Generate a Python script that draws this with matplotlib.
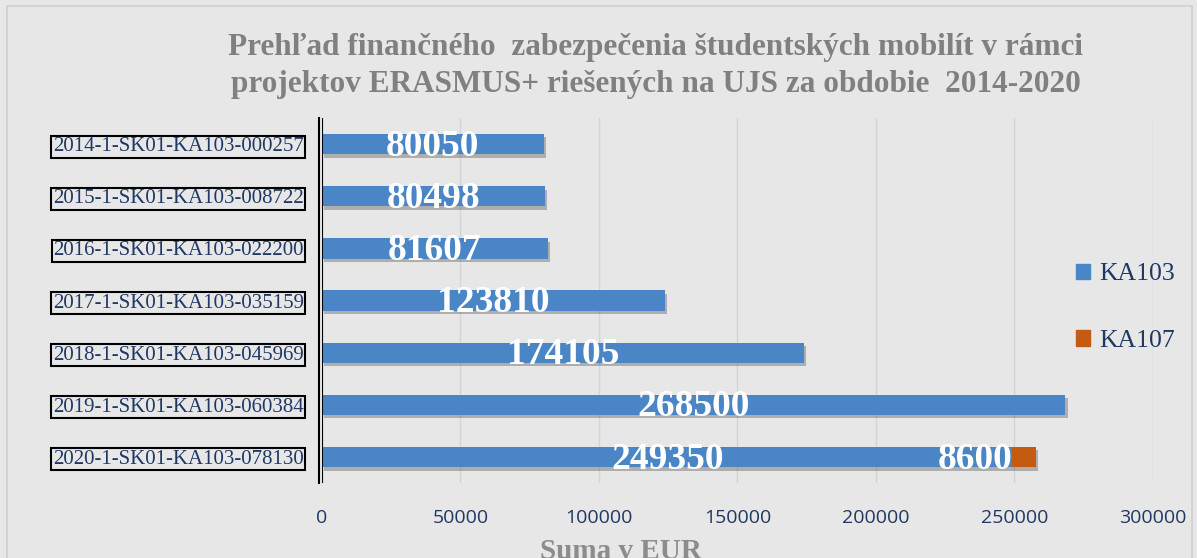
import numpy as np
import matplotlib.pyplot as plt
import matplotlib.patheffects as pe
from matplotlib.patches import Rectangle, Patch

projects = ["2014-1-SK01-KA103-000257", "2015-1-SK01-KA103-008722",
            "2016-1-SK01-KA103-022200", "2017-1-SK01-KA103-035159",
            "2018-1-SK01-KA103-045969", "2019-1-SK01-KA103-060384",
            "2020-1-SK01-KA103-078130"]
ka103 = [80050, 80498, 81607, 123810, 174105, 268500, 249350]
ka107 = [0, 0, 0, 0, 0, 0, 8600]

bg = "#E7E7E7"
navy = "#1F3864"
blue = "#4A86C6"
orange = "#C55A11"
serif = "Liberation Serif"

fig = plt.figure(figsize=(11.97, 5.58), dpi=100, facecolor=bg)
ax = fig.add_axes([0.269, 0.1344, 0.694, 0.654], facecolor=bg)

# spines first (set_position resets the ticks)
for s in ["top", "right", "bottom"]:
    ax.spines[s].set_visible(False)
ax.spines["left"].set_color("black")
ax.spines["left"].set_linewidth(1.5)
ax.spines["left"].set_position(("outward", 2.2))
ax.axvline(0, color="black", linewidth=1.5, zorder=4)

y = np.arange(len(projects))
shadow = [pe.SimplePatchShadow(offset=(1.5, -2.5), shadow_rgbFace="#444444", alpha=0.35), pe.Normal()]
b1 = ax.barh(y, ka103, height=0.39, color=blue, zorder=3)
b2 = ax.barh(y, ka107, left=ka103, height=0.39, color=orange, zorder=3)
for b in list(b1) + list(b2):
    b.set_path_effects(shadow)

for i in range(len(projects)):
    ax.text(ka103[i] / 2, y[i] + 0.04, str(ka103[i]), ha="center", va="center",
            color="white", fontsize=27, fontweight="bold", family=serif, zorder=5)
    if ka107[i] > 0:
        ax.text(ka103[i], y[i] + 0.04, str(ka107[i]), ha="right", va="center",
                color="white", fontsize=27, fontweight="bold", family=serif, zorder=5)

ax.set_xlim(0, 300000)
ax.set_ylim(len(projects) - 0.5, -0.5)
ax.set_xticks(np.arange(0, 300001, 50000))
ax.set_yticks(y)
ax.tick_params(axis="x", length=0, pad=19)
ax.tick_params(axis="y", length=0, pad=11)
ax.set_yticklabels(projects, fontfamily=serif, fontsize=15, color=navy)
for t in ax.get_yticklabels():
    t.set_bbox(dict(facecolor="none", edgecolor="black", linewidth=1.5, pad=1.0))
for t in ax.get_xticklabels():
    t.set_fontfamily("Open Sans")
    t.set_fontsize(14)
    t.set_color(navy)

ax.grid(axis="x", color="#D4D4D4", linewidth=1, zorder=0)

ax.set_xlabel("Suma v EUR", family=serif, fontsize=21, fontweight="bold", color="#8C8C8C")
ax.xaxis.set_label_coords(0.36, -0.15)

fig.text(0.548, 0.94, "Prehľad finančného  zabezpečenia študentských mobilít v rámci\n"
         "projektov ERASMUS+ riešených na UJS za obdobie  2014-2020",
         ha="center", va="top", family=serif, fontsize=22.5, fontweight="bold",
         color="#808080", linespacing=1.35)

handles = [Patch(color=blue, label="KA103"), Patch(color=orange, label="KA107")]
leg = ax.legend(handles=handles, loc="center left", bbox_to_anchor=(0.88, 0.48),
                frameon=False, prop={"family": serif, "size": 18.5}, labelspacing=1.75,
                handlelength=0.55, handleheight=0.55, handletextpad=0.35)
for t in leg.get_texts():
    t.set_color(navy)

fig.patches.append(Rectangle((0.006, -0.01), 0.99, 1.0, transform=fig.transFigure,
                             fill=False, edgecolor="#CFCFCF", linewidth=1.2))

fig.savefig("out.png", dpi=100, facecolor=bg)
